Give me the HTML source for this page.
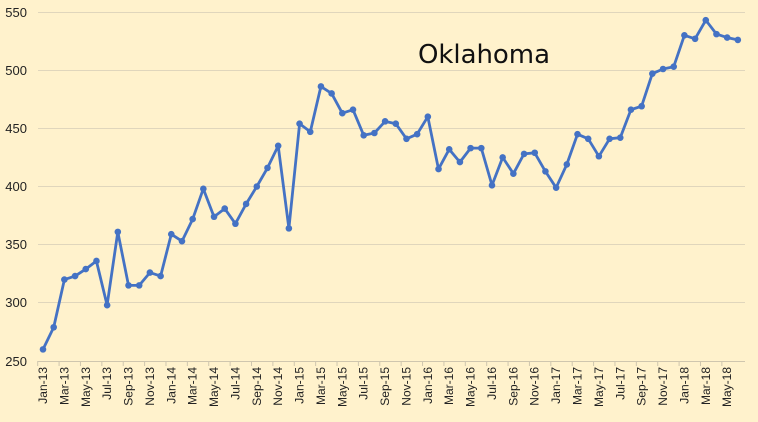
<!DOCTYPE html>
<html><head><meta charset="utf-8"><style>
html,body{margin:0;padding:0;background:#FFF2CC;}
svg{display:block;font-family:"Liberation Sans",sans-serif;}
</style></head><body>
<svg width="758" height="422" viewBox="0 0 758 422">
<rect width="758" height="422" fill="#FFF2CC"/>
<g stroke="#E0D6BC" stroke-width="1">
<line x1="38" x2="745" y1="12.5" y2="12.5"/>
<line x1="38" x2="745" y1="70.5" y2="70.5"/>
<line x1="38" x2="745" y1="128.5" y2="128.5"/>
<line x1="38" x2="745" y1="186.5" y2="186.5"/>
<line x1="38" x2="745" y1="244.5" y2="244.5"/>
<line x1="38" x2="745" y1="302.5" y2="302.5"/>
</g>
<line x1="38" x2="745" y1="361.5" y2="361.5" stroke="#CFC6AE"/>
<g font-size="13" fill="#222" text-anchor="end">
<text x="27" y="17">550</text>
<text x="27" y="75">500</text>
<text x="27" y="133">450</text>
<text x="27" y="191">400</text>
<text x="27" y="249">350</text>
<text x="27" y="307">300</text>
<text x="27" y="366">250</text>
</g>
<text x="418" y="63" font-size="26" fill="#111" font-family="'DejaVu Sans','Liberation Sans',sans-serif" textLength="132">Oklahoma</text>
<g font-size="12" fill="#222" text-anchor="end">
<text transform="translate(47,367) rotate(-90)">Jan-13</text>
<text transform="translate(68.4,367) rotate(-90)">Mar-13</text>
<text transform="translate(89.8,367) rotate(-90)">May-13</text>
<text transform="translate(111.1,367) rotate(-90)">Jul-13</text>
<text transform="translate(132.5,367) rotate(-90)">Sep-13</text>
<text transform="translate(153.9,367) rotate(-90)">Nov-13</text>
<text transform="translate(175.3,367) rotate(-90)">Jan-14</text>
<text transform="translate(196.7,367) rotate(-90)">Mar-14</text>
<text transform="translate(218,367) rotate(-90)">May-14</text>
<text transform="translate(239.4,367) rotate(-90)">Jul-14</text>
<text transform="translate(260.8,367) rotate(-90)">Sep-14</text>
<text transform="translate(282.2,367) rotate(-90)">Nov-14</text>
<text transform="translate(303.6,367) rotate(-90)">Jan-15</text>
<text transform="translate(325,367) rotate(-90)">Mar-15</text>
<text transform="translate(346.3,367) rotate(-90)">May-15</text>
<text transform="translate(367.7,367) rotate(-90)">Jul-15</text>
<text transform="translate(389.1,367) rotate(-90)">Sep-15</text>
<text transform="translate(410.5,367) rotate(-90)">Nov-15</text>
<text transform="translate(431.8,367) rotate(-90)">Jan-16</text>
<text transform="translate(453.2,367) rotate(-90)">Mar-16</text>
<text transform="translate(474.6,367) rotate(-90)">May-16</text>
<text transform="translate(496,367) rotate(-90)">Jul-16</text>
<text transform="translate(517.4,367) rotate(-90)">Sep-16</text>
<text transform="translate(538.7,367) rotate(-90)">Nov-16</text>
<text transform="translate(560.1,367) rotate(-90)">Jan-17</text>
<text transform="translate(581.5,367) rotate(-90)">Mar-17</text>
<text transform="translate(602.9,367) rotate(-90)">May-17</text>
<text transform="translate(624.3,367) rotate(-90)">Jul-17</text>
<text transform="translate(645.6,367) rotate(-90)">Sep-17</text>
<text transform="translate(667,367) rotate(-90)">Nov-17</text>
<text transform="translate(688.4,367) rotate(-90)">Jan-18</text>
<text transform="translate(709.8,367) rotate(-90)">Mar-18</text>
<text transform="translate(731.2,367) rotate(-90)">May-18</text>
</g>
<g id="ticks" stroke="#CFC6AE"></g>
<polyline id="ln" fill="none" stroke="#4472C4" stroke-width="2.8" stroke-linejoin="round"/>
<g id="pts" fill="#4472C4"></g>
<script>
var d=[260,279,320,323,329,336,298,361,315,315,326,323,359,353,372,398,374,381,368,385,400,416,435,364,454,447,486,480,463,466,444,446,456,454,441,445,460,415,432,421,433,433,401,425,411,428,429,413,399,419,445,441,426,441,442,466,469,497,501,503,530,527,543,531,528,526];
var p=[],g=document.getElementById('pts'),t=document.getElementById('ticks'),ns='http://www.w3.org/2000/svg';
d.forEach(function(v,i){var x=43+i*10.69,y=361-(v-250)*1.1633;p.push(x.toFixed(1)+','+y.toFixed(1));
var c=document.createElementNS(ns,'circle');c.setAttribute('cx',x);c.setAttribute('cy',y);c.setAttribute('r',3.3);g.appendChild(c);
if(i%2==0){var l=document.createElementNS(ns,'line');l.setAttribute('x1',x-5.3);l.setAttribute('x2',x-5.3);l.setAttribute('y1',361);l.setAttribute('y2',366);t.appendChild(l);}});
document.getElementById('ln').setAttribute('points',p.join(' '));
</script>
</svg>
</body></html>
